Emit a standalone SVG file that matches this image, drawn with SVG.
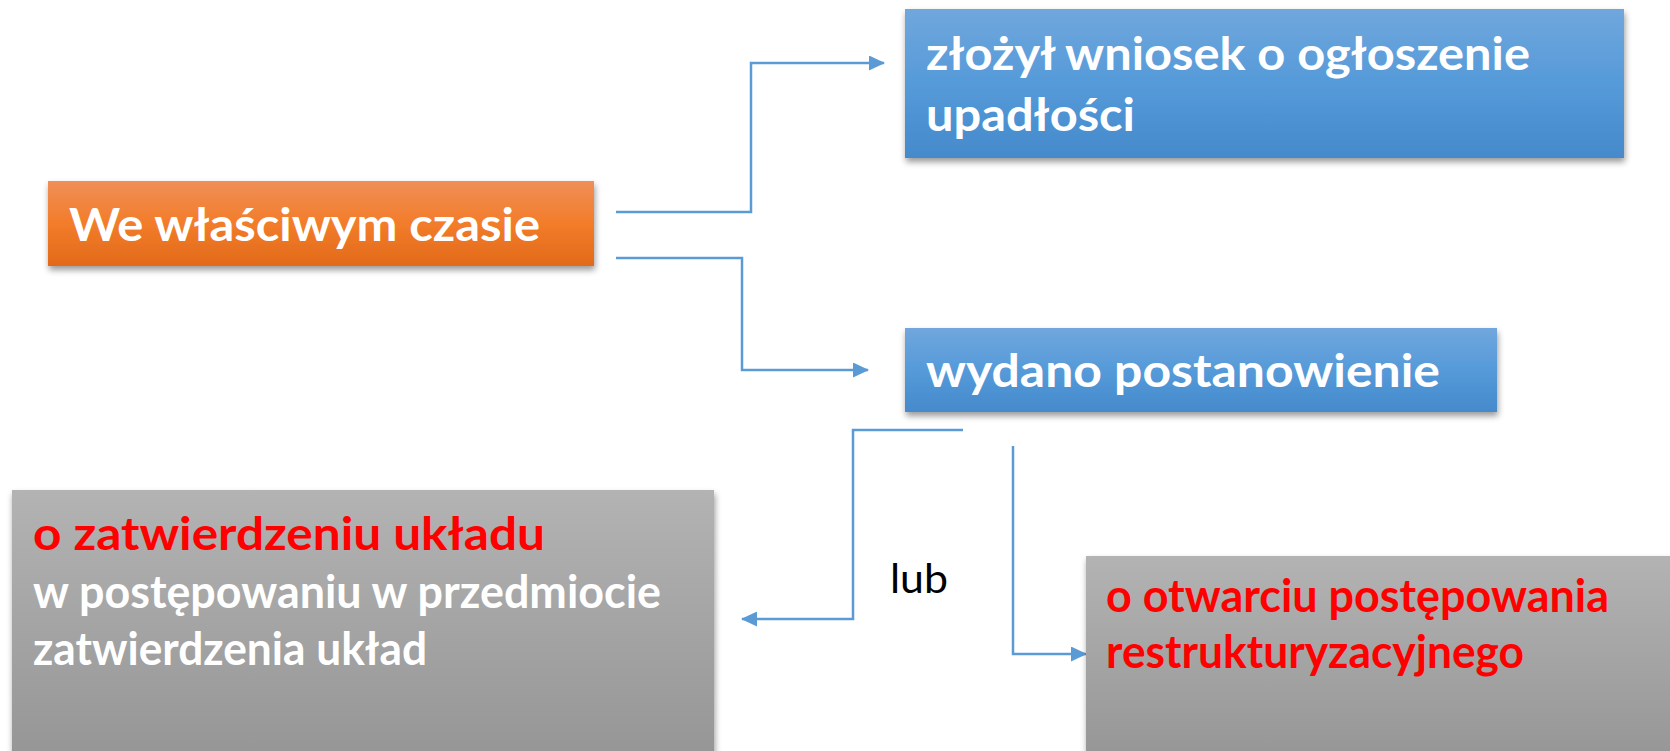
<svg xmlns="http://www.w3.org/2000/svg" width="1670" height="751" viewBox="0 0 1670 751">
<style>
.t{font-family:Lato,"Liberation Sans",sans-serif;font-weight:bold;font-size:46px;}
.w{fill:#FFFFFF;}
.r{fill:#FF0000;}
.lub{font-family:Lato,"Liberation Sans",sans-serif;font-size:40px;fill:#000000;}
.c{fill:none;stroke:#5B9BD5;stroke-width:2.5;marker-end:url(#arr);}
</style>
<defs>
<linearGradient id="gOrange" x1="0" y1="0" x2="0" y2="1">
<stop offset="0" stop-color="#F08F57"/>
<stop offset="0.5" stop-color="#F27C2A"/>
<stop offset="1" stop-color="#E26A1A"/>
</linearGradient>
<linearGradient id="gBlue" x1="0" y1="0" x2="0" y2="1">
<stop offset="0" stop-color="#70A7DD"/>
<stop offset="0.5" stop-color="#559AD9"/>
<stop offset="1" stop-color="#458ACB"/>
</linearGradient>
<linearGradient id="gGray" x1="0" y1="0" x2="0" y2="1">
<stop offset="0" stop-color="#B3B3B3"/>
<stop offset="1" stop-color="#959595"/>
</linearGradient>
<filter id="sh" x="-5%" y="-10%" width="110%" height="130%">
<feDropShadow dx="1" dy="4" stdDeviation="3" flood-color="#000" flood-opacity="0.4"/>
</filter>
<marker id="arr" markerUnits="userSpaceOnUse" markerWidth="16" markerHeight="15" refX="15" refY="7.5" orient="auto">
<path d="M0,0 L16,7.5 L0,15 z" fill="#5B9BD5"/>
</marker>
</defs>

<g id="connectors">
<path class="c" d="M616,212 H751 V63 H884"/>
<path class="c" d="M616,258 H742 V370 H868"/>
<path class="c" d="M963,430 H853 V619 H742"/>
<path class="c" d="M1013,446 V654 H1086"/>
<text id="lbl-lub" class="lub" x="890" y="593" textLength="58" lengthAdjust="spacingAndGlyphs">lub</text>
</g>

<g id="node-czas">
<rect x="48" y="181" width="546" height="85" fill="url(#gOrange)" filter="url(#sh)"/>
<text class="t w" x="69" y="241" textLength="471" lengthAdjust="spacingAndGlyphs">We właściwym czasie</text>
</g>

<g id="node-wniosek">
<rect x="905" y="9" width="719" height="149" fill="url(#gBlue)" filter="url(#sh)"/>
<text class="t w" x="926" y="70" textLength="604" lengthAdjust="spacingAndGlyphs">złożył wniosek o ogłoszenie</text>
<text class="t w" x="926" y="131" textLength="209" lengthAdjust="spacingAndGlyphs">upadłości</text>
</g>

<g id="node-postanowienie">
<rect x="905" y="328" width="592" height="84" fill="url(#gBlue)" filter="url(#sh)"/>
<text class="t w" x="926" y="387" textLength="514" lengthAdjust="spacingAndGlyphs">wydano postanowienie</text>
</g>

<g id="node-uklad">
<rect x="12" y="490" width="702" height="275" fill="url(#gGray)" filter="url(#sh)"/>
<text class="t r" x="33" y="550" textLength="512" lengthAdjust="spacingAndGlyphs">o zatwierdzeniu układu</text>
<text class="t w" x="33" y="608" textLength="628" lengthAdjust="spacingAndGlyphs">w postępowaniu w przedmiocie</text>
<text class="t w" x="33" y="665" textLength="394" lengthAdjust="spacingAndGlyphs">zatwierdzenia układ</text>
</g>

<g id="node-restrukturyzacja">
<rect x="1086" y="556" width="600" height="210" fill="url(#gGray)" filter="url(#sh)"/>
<text class="t r" x="1106" y="612" textLength="503" lengthAdjust="spacingAndGlyphs">o otwarciu postępowania</text>
<text class="t r" x="1106" y="668" textLength="418" lengthAdjust="spacingAndGlyphs">restrukturyzacyjnego</text>
</g>
</svg>
